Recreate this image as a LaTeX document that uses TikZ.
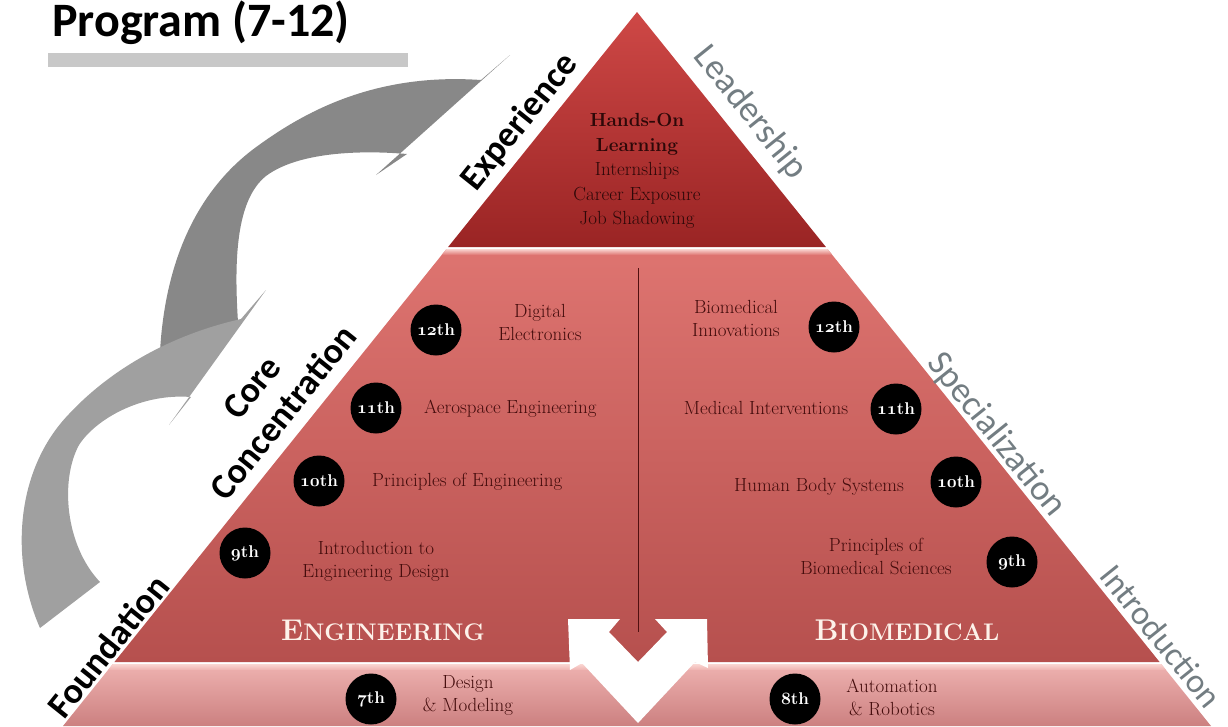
\documentclass[tikz,border=0pt]{standalone}
\usepackage{fontspec}
\newfontfamily\calibri{Carlito}
\definecolor{topred}{RGB}{206,72,70}
\definecolor{topreddark}{RGB}{154,36,36}
\definecolor{midtop}{RGB}{222,116,112}
\definecolor{midbot}{RGB}{182,80,78}
\definecolor{bandtop}{RGB}{238,178,176}
\definecolor{bandbot}{RGB}{204,128,128}
\definecolor{hilite}{RGB}{250,214,210}
\definecolor{coursered}{RGB}{68,12,12}
\definecolor{handsred}{RGB}{45,8,8}
\definecolor{dividerred}{RGB}{80,16,16}
\definecolor{stagegray}{RGB}{115,125,130}
\definecolor{arrowdark}{RGB}{136,136,136}
\definecolor{arrowlight}{RGB}{160,160,160}
\definecolor{bargray}{RGB}{200,200,200}
\definecolor{capcream}{RGB}{253,242,234}
\newcommand\ordn[1]{{\usefont{OML}{cmm}{b}{it}#1}th}
\tikzset{
  grade/.style={circle, fill=black, text=white, minimum size=51pt, inner sep=0pt,
    font=\fontsize{17}{17}\selectfont\bfseries},
  course/.style={align=center, text=coursered, inner sep=0pt,
    font=\fontsize{19}{23}\selectfont},
  stage/.style={align=center, inner sep=0pt, rotate=51.3,
    font=\calibri\bfseries\fontsize{36}{40}\selectfont},
  level/.style={inner sep=0pt, rotate=-51.2, text=stagegray,
    font=\calibri\fontsize{36}{40}\selectfont},
  track/.style={inner sep=0pt, text=capcream,
    font=\bfseries\addfontfeature{LetterSpace=12}\fontsize{24}{24}\selectfont}
}

\begin{document}
\begin{tikzpicture}[x=1pt,y=-1pt]
	%%%%% START %%%%%
	\useasboundingbox (0,0) rectangle (1228,726);

	\node[anchor=base west, inner sep=0pt, font=\calibri\bfseries\fontsize{48}{48}\selectfont] (title) at (52,36) {Program (7-12)};
	\fill[bargray] (48,53) rectangle (408,67);

	% curved arrows
	\fill[arrowdark] (160,352) .. controls (165,260) and (198,188) .. (259,145)
		.. controls (310,108) and (380,73) .. (481,80) -- (510,55) -- (376,175) -- (407,154)
		.. controls (360,150) and (298,152) .. (266,176)
		.. controls (236,200) and (234,260) .. (238,322) -- (205,340) -- cycle;
	\fill[arrowlight] (40,628) .. controls (10,560) and (15,470) .. (69,414)
		.. controls (110,370) and (170,335) .. (241,319) -- (266,290) -- (169,425) -- (191,397)
		.. controls (140,393) and (95,420) .. (79,445)
		.. controls (60,480) and (65,545) .. (100,582) -- cycle;

	% pyramid
	\shade[top color=topred, bottom color=topreddark] (637,12) -- (825.9,247) -- (448.1,247) -- cycle;
	\shade[top color=midtop, bottom color=midbot] (446.5,249) -- (827.5,249) -- (1159.6,662) -- (114.4,662) -- cycle;
	\shade[top color=hilite, bottom color=midtop] (446.5,249) -- (827.5,249) -- (832.3,255) -- (441.7,255) -- cycle;
	\shade[top color=bandtop, bottom color=bandbot] (112.8,664) -- (1161.2,664) -- (1211,726) -- (63,726) -- cycle;
	\shade[top color=hilite, bottom color=bandtop] (112.8,664) -- (1161.2,664) -- (1166,670) -- (108,670) -- cycle;
	\draw[line width=1.8, color=dividerred] (638.5,268) -- (638.5,632);
	\fill[white] (568,619) -- (620,619) -- (609,632) -- (638,662) -- (667,632) -- (655,619) -- (707,619)
		-- (708,668) -- (695,662) -- (638,723) -- (582,663) -- (570,670) -- cycle;

	% labels along the sides
	\node[stage] (experience) at (520,122) {Experience};
	\node[stage] (core) at (268,400) {Core\\Concentration};
	\node[stage] (foundation) at (108,646) {Foundation};
	\node[level] (leadership) at (750,113) {Leadership};
	\node[level] (special) at (996,435) {Specialization};
	\node[level, font=\calibri\fontsize{34}{38}\selectfont] (intro) at (1161,636) {Introduction};

	% top
	\node[course, text=handsred, font=\fontsize{19}{24.5}\selectfont] (hands) at (637,171)
		{\textbf{Hands-On}\\\textbf{Learning}\\Internships\\Career Exposure\\Job Shadowing};

	% engineering side
	\node[grade] (g12e) at (436,330) {\ordn{12}};
	\node[grade] (g11e) at (376,408) {\ordn{11}};
	\node[grade] (g10e) at (319,481) {\ordn{10}};
	\node[grade] (g9e) at (245,553) {\ordn{9}};
	\node[course] (dig) at (540,322) {Digital\\Electronics};
	\node[course, anchor=west] (aero) at (424,409) {Aerospace Engineering};
	\node[course, anchor=west] (poe) at (372,482) {Principles of Engineering};
	\node[course] (ied) at (376,561) {Introduction to\\Engineering Design};
	\node[track] (eng) at (383,630) {{\fontsize{30}{30}\selectfont E}NGINEERING};

	% biomedical side
	\node[grade] (g12b) at (834,327) {\ordn{12}};
	\node[grade] (g11b) at (896,409) {\ordn{11}};
	\node[grade] (g10b) at (956,482) {\ordn{10}};
	\node[grade] (g9b) at (1012,562) {\ordn{9}};
	\node[course] (bi) at (736,318) {Biomedical\\Innovations};
	\node[course] (mi) at (766,408) {Medical Interventions};
	\node[course] (hbs) at (819,487) {Human Body Systems};
	\node[course] (pbs) at (876,556) {Principles of\\Biomedical Sciences};
	\node[track] (bio) at (907,630) {{\fontsize{30}{30}\selectfont B}IOMEDICAL};

	% middle school band
	\node[grade] (g7) at (371,699) {\ordn{7}};
	\node[grade] (g8) at (795,699) {\ordn{8}};
	\node[course] (dm) at (468,695) {Design\\\& Modeling};
	\node[course] (ar) at (892,697) {Automation\\\& Robotics};
	%%%%% END %%%%%
\end{tikzpicture}
\end{document}
